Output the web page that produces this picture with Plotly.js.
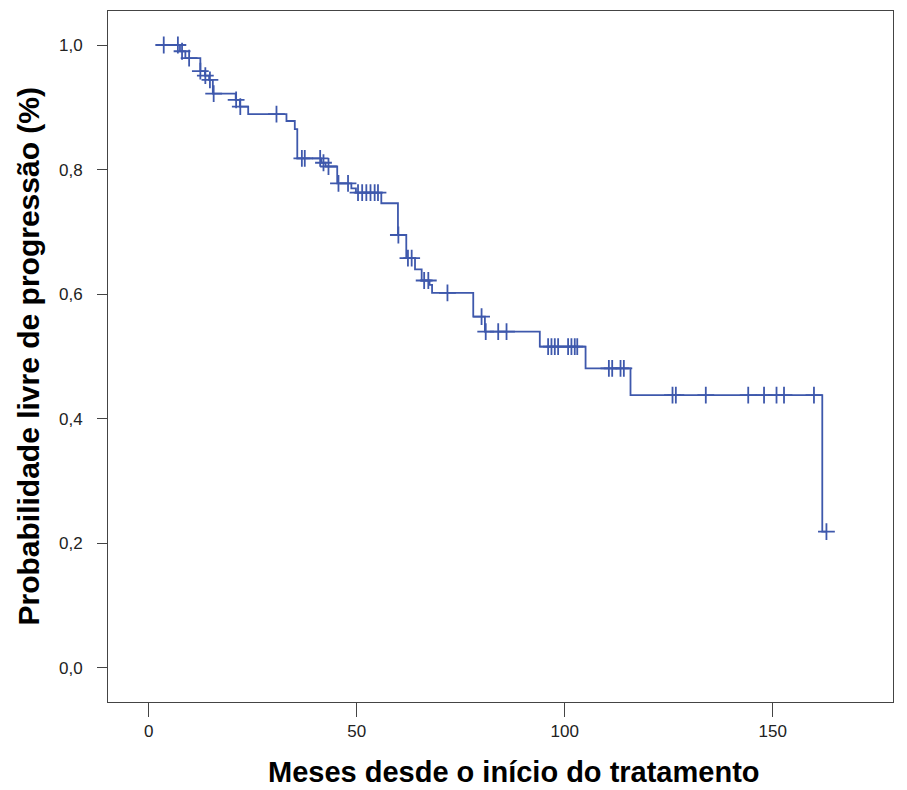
<!DOCTYPE html>
<html>
<head>
<meta charset="utf-8">
<script src="https://cdn.plot.ly/plotly-3.0.1.min.js"></script>
<style>html,body{margin:0;padding:0;background:#fff;}#chart{width:907px;height:790px;}</style>
</head>
<body>
<div id="chart"></div>
<script>
// Kaplan-Meier step curve (time in months, survival probability)
var stepTime = [3.6, 7.5, 8.8, 12.4, 13.5, 14.5, 15.4, 20.9, 21.9, 23.9, 33.1, 35.1, 35.7, 41.5, 42.5, 45.3, 48.7, 49.8, 55.9, 59.9, 61.9, 64.0, 65.6, 67.5, 68.1, 78.0, 80.8, 94.0, 105.0, 115.8, 161.9, 162.9];
var stepSurv = [1.000, 0.990, 0.979, 0.958, 0.951, 0.944, 0.922, 0.912, 0.901, 0.889, 0.878, 0.865, 0.818, 0.811, 0.805, 0.778, 0.770, 0.763, 0.746, 0.695, 0.658, 0.640, 0.622, 0.615, 0.602, 0.564, 0.540, 0.516, 0.481, 0.438, 0.219, 0.219];

// Censored observations
var censorTime = [3.6, 7.0, 8.0, 9.7, 12.4, 13.6, 14.7, 15.6, 21.0, 22.0, 30.7, 36.8, 37.5, 41.2, 42.0, 43.2, 45.6, 47.9, 50.3, 51.3, 52.3, 53.3, 54.3, 55.1, 60.0, 62.3, 63.2, 66.2, 67.2, 71.8, 80.0, 81.0, 84.0, 86.0, 96.0, 96.8, 97.6, 98.4, 100.8, 101.6, 102.4, 103.0, 110.6, 111.4, 113.4, 114.2, 125.9, 126.7, 133.9, 144.1, 147.9, 150.9, 152.7, 159.9, 162.9];
var censorSurv = [1.000, 1.000, 0.990, 0.979, 0.958, 0.951, 0.944, 0.922, 0.912, 0.901, 0.889, 0.818, 0.818, 0.818, 0.811, 0.805, 0.778, 0.778, 0.763, 0.763, 0.763, 0.763, 0.763, 0.763, 0.695, 0.658, 0.658, 0.622, 0.622, 0.602, 0.564, 0.540, 0.540, 0.540, 0.516, 0.516, 0.516, 0.516, 0.516, 0.516, 0.516, 0.516, 0.481, 0.481, 0.481, 0.481, 0.438, 0.438, 0.438, 0.438, 0.438, 0.438, 0.438, 0.438, 0.219];

var xTickVals = [0, 50, 100, 150];
var xTickText = ['0', '50', '100', '150'];
var yTickVals = [0, 0.2, 0.4, 0.6, 0.8, 1.0];
var yTickText = ['0,0', '0,2', '0,4', '0,6', '0,8', '1,0'];

var xTitle = 'Meses desde o início do tratamento';
var yTitle = 'Probabilidade livre de progressão (%)';

var blue = '#3e58ac';

var traces = [
  {
    x: stepTime, y: stepSurv, type: 'scatter', mode: 'lines',
    line: {shape: 'hv', color: blue, width: 1.8},
    hoverinfo: 'x+y', showlegend: false
  },
  {
    x: censorTime, y: censorSurv, type: 'scatter', mode: 'markers',
    marker: {symbol: 'cross-thin', size: 12, line: {color: blue, width: 1.8}, color: blue},
    showlegend: false
  }
];

var layout = {
  width: 907, height: 790,
  margin: {l: 108, r: 14, t: 11, b: 88},
  paper_bgcolor: '#ffffff', plot_bgcolor: '#ffffff',
  font: {family: 'Liberation Sans, Arial, sans-serif', color: '#222'},
  showlegend: false,
  xaxis: {
    range: [-9.8, 178.9], tickmode: 'array', tickvals: xTickVals, ticktext: xTickText,
    ticks: 'outside', ticklen: 14, tickwidth: 1, tickcolor: '#444',
    showline: true, mirror: true, linecolor: '#444', linewidth: 1,
    showgrid: false, zeroline: false,
    tickfont: {size: 17, color: '#222'}
  },
  yaxis: {
    range: [-0.0546, 1.0546], tickmode: 'array', tickvals: yTickVals, ticktext: yTickText,
    ticks: 'outside', ticklen: 10, tickwidth: 1, tickcolor: '#444',
    ticklabelstandoff: 11,
    showline: true, mirror: true, linecolor: '#444', linewidth: 1,
    showgrid: false, zeroline: false,
    tickfont: {size: 17, color: '#222'}
  },
  annotations: [
    {text: '<b>' + xTitle + '</b>', xref: 'paper', yref: 'paper', x: 0.5175, y: 0, yshift: -70,
     xanchor: 'center', yanchor: 'middle', showarrow: false,
     font: {size: 29, color: '#000', family: 'Liberation Sans, Arial, sans-serif'}},
    {text: '<b>' + yTitle + '</b>', xref: 'paper', yref: 'paper', x: 0, xshift: -80, y: 0.5,
     xanchor: 'center', yanchor: 'middle', textangle: -90, showarrow: false,
     font: {size: 30, color: '#000', family: 'Liberation Sans, Arial, sans-serif'}}
  ]
};

Plotly.newPlot('chart', traces, layout, {staticPlot: true, displayModeBar: false});
</script>
</body>
</html>
